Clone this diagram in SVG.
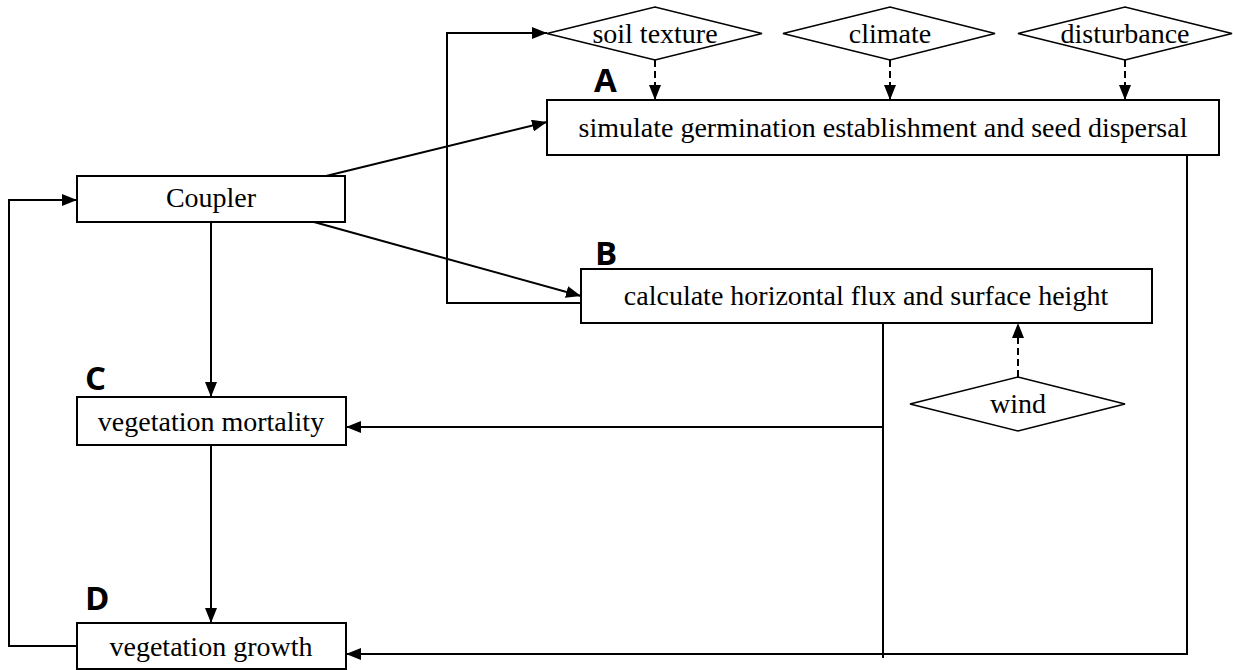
<svg xmlns="http://www.w3.org/2000/svg" width="1233" height="670" viewBox="0 0 1233 670">
<defs>
<marker id="ah" viewBox="0 0 15 12" refX="15" refY="6" markerWidth="15" markerHeight="12" markerUnits="userSpaceOnUse" orient="auto">
<path d="M0,0 L15,6 L0,12 Z" fill="#000"/>
</marker>
</defs>
<style>
.box{fill:#fff;stroke:#000;stroke-width:2}
.dia{fill:#fff;stroke:#000;stroke-width:1.6}
.t{font-family:"Liberation Serif","Times New Roman",serif;font-size:28px;fill:#000;text-anchor:middle}
.lbl{font-family:"Open Sans","DejaVu Sans",sans-serif;font-size:33px;font-weight:700;fill:#000}
.c{fill:none;stroke:#000;stroke-width:2}
.d{fill:none;stroke:#000;stroke-width:2;stroke-dasharray:7,4}
</style>
<rect width="1233" height="670" fill="#fff"/>
<g id="connectors">
<path class="c" d="M326,176 L547,122" marker-end="url(#ah)"/>
<path class="c" d="M314,222 L581,296" marker-end="url(#ah)"/>
<path class="c" d="M581,303 L447,303 L447,33 L547,33" marker-end="url(#ah)"/>
<path class="c" d="M211,222 L211,397" marker-end="url(#ah)"/>
<path class="c" d="M211,445 L211,623" marker-end="url(#ah)"/>
<path class="c" d="M77,646 L9,646 L9,200 L77,200" marker-end="url(#ah)"/>
<path class="c" d="M883,323 L883,658"/>
<path class="c" d="M883,427 L346,427" marker-end="url(#ah)"/>
<path class="c" d="M1187,155 L1187,654 L346,654" marker-end="url(#ah)"/>
<path class="d" d="M655,60 L655,100" marker-end="url(#ah)"/>
<path class="d" d="M890,60 L890,100" marker-end="url(#ah)"/>
<path class="d" d="M1125,60 L1125,100" marker-end="url(#ah)"/>
<path class="d" d="M1018,377 L1018,323" marker-end="url(#ah)"/>
</g>
<g id="soil">
<polygon class="dia" points="547,33.5 655,7 762,33.5 655,60"/>
<text class="t" x="655" y="43">soil texture</text>
</g>
<g id="climate">
<polygon class="dia" points="783,33.5 890,7 995,33.5 890,60"/>
<text class="t" x="890" y="43">climate</text>
</g>
<g id="disturbance">
<polygon class="dia" points="1018,33.5 1125,7 1232,33.5 1125,60"/>
<text class="t" x="1125" y="43">disturbance</text>
</g>
<g id="boxA">
<rect class="box" x="547" y="100" width="672" height="55"/>
<text class="t" x="883" y="137">simulate germination establishment and seed dispersal</text>
<text class="lbl" x="594" y="92">A</text>
</g>
<g id="coupler">
<rect class="box" x="77" y="176" width="268" height="46"/>
<text class="t" x="211" y="207">Coupler</text>
</g>
<g id="boxB">
<rect class="box" x="581" y="269" width="571" height="54"/>
<text class="t" x="866" y="305">calculate horizontal flux and surface height</text>
<text class="lbl" x="595" y="265">B</text>
</g>
<g id="wind">
<polygon class="dia" points="910,404 1018,377 1125,404 1018,431"/>
<text class="t" x="1018" y="413">wind</text>
</g>
<g id="boxC">
<rect class="box" x="77" y="397" width="269" height="48"/>
<text class="t" x="211" y="431">vegetation mortality</text>
<text class="lbl" x="85" y="390">C</text>
</g>
<g id="boxD">
<rect class="box" x="77" y="623" width="269" height="46"/>
<text class="t" x="211" y="656">vegetation growth</text>
<text class="lbl" x="85" y="610">D</text>
</g>
</svg>
